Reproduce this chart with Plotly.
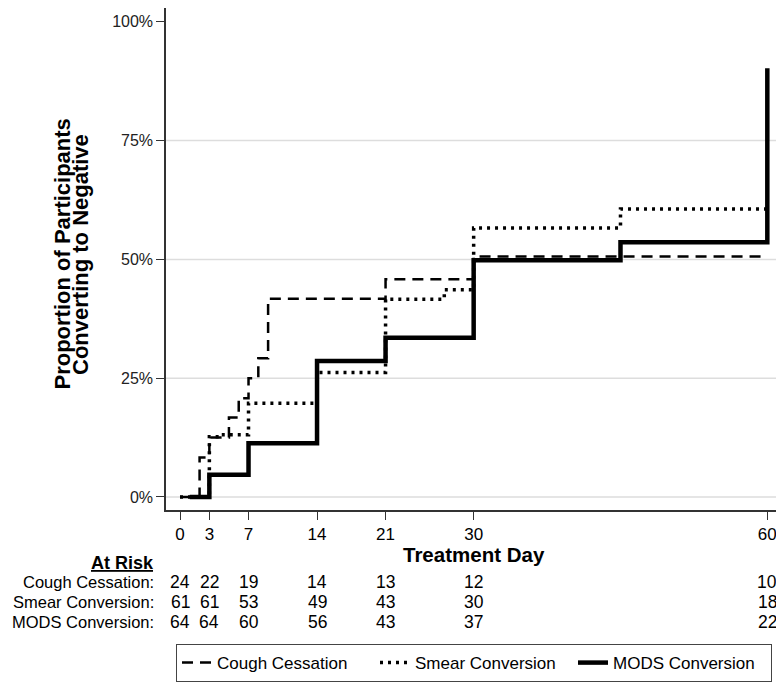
import plotly.graph_objects as go

# ---- data ----
tick_days = [0, 3, 7, 14, 21, 30, 60]
y_ticks = [0, 25, 50, 75, 100]
y_tick_labels = ["0%", "25%", "50%", "75%", "100%"]

cough_day = [0, 2, 3, 5, 6, 7, 8, 9, 21, 30, 60]
cough_pct = [0, 8.3, 12.5, 16.7, 20.8, 25.0, 29.2, 41.7, 45.8, 50.6, 50.6]

smear_day = [0, 3, 4, 7, 14, 21, 27, 30, 45, 60]
smear_pct = [0, 12.7, 13.1, 19.7, 26.2, 41.6, 43.6, 56.6, 60.6, 60.6]

mods_day = [1, 3, 7, 14, 21, 30, 45, 60]
mods_pct = [0, 4.7, 11.3, 28.6, 33.5, 49.8, 53.6, 90.2]

risk_labels = ["Cough Cessation:", "Smear Conversion:", "MODS Conversion:"]
risk_cough = [24, 22, 19, 14, 13, 12, 10]
risk_smear = [61, 61, 53, 49, 43, 30, 18]
risk_mods = [64, 64, 60, 56, 43, 37, 22]

FONT = "Liberation Sans, Arial, sans-serif"

fig = go.Figure()
fig.add_trace(go.Scatter(x=cough_day, y=cough_pct, mode="lines", line_shape="hv",
                         name="Cough Cessation",
                         line=dict(color="black", width=2.5, dash="11px,7px")))
fig.add_trace(go.Scatter(x=smear_day, y=smear_pct, mode="lines", line_shape="hv",
                         name="Smear Conversion",
                         line=dict(color="black", width=3.5, dash="3px,5px")))
fig.add_trace(go.Scatter(x=mods_day, y=mods_pct, mode="lines", line_shape="hv",
                         name="MODS Conversion",
                         line=dict(color="black", width=4.5)))

# gridlines (0-75%)
shapes = []
for v in y_ticks[:-1]:
    shapes.append(dict(type="line", xref="paper", x0=0, x1=1, yref="y", y0=v, y1=v,
                       line=dict(color="#dddddd", width=1.5), layer="below"))

annotations = []
# y axis title (two lines)
for txt, xp in [("<b>Proportion of Participants</b>", -0.168),
                ("<b>Converting to Negative</b>", -0.138)]:
    annotations.append(dict(text=txt, xref="paper", yref="paper", x=xp, y=0.51,
                            xanchor="center", yanchor="middle", textangle=-90,
                            showarrow=False, font=dict(family=FONT, size=22, color="black")))
# x axis title
annotations.append(dict(text="<b>Treatment Day</b>", xref="paper", yref="paper",
                        x=0.5, y=-0.089, xanchor="center", yanchor="middle",
                        showarrow=False, font=dict(family=FONT, size=20.5, color="black")))
# At risk header
annotations.append(dict(text="<b><u>At Risk</u></b>", xref="paper", yref="paper",
                        x=-0.017, y=-0.106, xanchor="right", yanchor="middle",
                        showarrow=False, font=dict(family=FONT, size=18, color="black")))
row_y = [-0.144, -0.184, -0.224]
for lab, ry, vals in zip(risk_labels, row_y, [risk_cough, risk_smear, risk_mods]):
    annotations.append(dict(text=lab, xref="paper", yref="paper", x=-0.017, y=ry,
                            xanchor="right", yanchor="middle", showarrow=False,
                            font=dict(family=FONT, size=16.5, color="black")))
    for d, v in zip(tick_days, vals):
        annotations.append(dict(text=str(v), xref="x", yref="paper", x=d, y=ry,
                                xanchor="center", yanchor="middle", showarrow=False,
                                font=dict(family=FONT, size=17.5, color="black")))

fig.update_layout(
    width=776, height=676,
    margin=dict(l=158, r=2, t=0, b=174, autoexpand=False),
    paper_bgcolor="white", plot_bgcolor="white",
    font=dict(family=FONT, color="black"),
    showlegend=True,
    legend=dict(orientation="h", x=0.5, xanchor="center", y=-0.267, yanchor="top",
                bordercolor="#444444", borderwidth=1, bgcolor="white",
                font=dict(family=FONT, size=17, color="black"),
                itemwidth=30, entrywidth=153, entrywidthmode="pixels",
                traceorder="normal"),
    shapes=shapes,
    annotations=annotations,
    xaxis=dict(range=[-1.43, 61.5], tickmode="array", tickvals=tick_days,
               ticktext=[str(t) for t in tick_days],
               showgrid=False, zeroline=False, showline=True, mirror=True,
               linecolor="#333333", linewidth=1.5,
               ticks="outside", ticklen=8, tickcolor="#333333", tickwidth=1,
               ticklabelstandoff=0,
               tickfont=dict(family=FONT, size=17, color="black")),
    yaxis=dict(range=[-2.74, 102.9], tickmode="array", tickvals=y_ticks,
               ticktext=y_tick_labels,
               showgrid=False, zeroline=False, showline=True, mirror=True,
               linecolor="#333333", linewidth=1.5,
               ticks="outside", ticklen=8, tickcolor="#333333", tickwidth=1,
               tickfont=dict(family=FONT, size=16, color="#222222")),
)

fig.write_html("out.html")
